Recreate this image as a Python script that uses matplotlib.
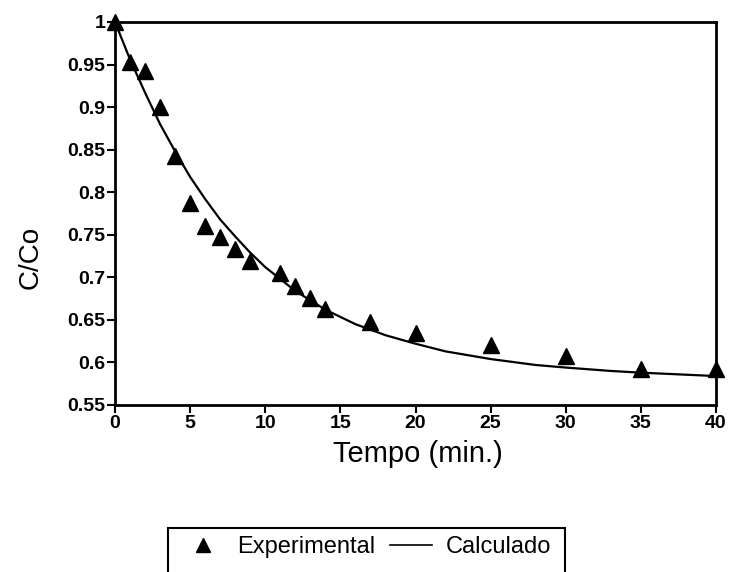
import matplotlib
matplotlib.use("Agg")
import matplotlib.pyplot as plt
from matplotlib.lines import Line2D
from matplotlib.patches import Rectangle

plt.rcParams['font.family'] = ['Liberation Sans', 'DejaVu Sans']

# Experimental points
t_exp = [0, 1, 2, 3, 4, 5, 6, 7, 8, 9, 11, 12, 13, 14, 17, 20, 25, 30, 35, 40]
c_exp = [1.0, 0.953, 0.943, 0.900, 0.843, 0.787, 0.760, 0.747, 0.733, 0.719,
         0.705, 0.690, 0.676, 0.663, 0.648, 0.635, 0.621, 0.607, 0.592, 0.592]

# Calculated curve
t_calc = [0, 1, 2, 3, 4, 5, 6, 7, 8, 9, 10, 12, 14, 16, 18, 20, 22, 25, 28, 30, 33, 35, 40]
c_calc = [1.0, 0.956, 0.917, 0.880, 0.848, 0.818, 0.792, 0.768, 0.748, 0.729, 0.712,
          0.684, 0.662, 0.645, 0.632, 0.622, 0.613, 0.604, 0.597, 0.594, 0.590, 0.588, 0.584]

xticks = [0, 5, 10, 15, 20, 25, 30, 35, 40]
yticks = [0.55, 0.6, 0.65, 0.7, 0.75, 0.8, 0.85, 0.9, 0.95, 1.0]
ytick_labels = ['0.55', '0.6', '0.65', '0.7', '0.75', '0.8', '0.85', '0.9', '0.95', '1']

W, H = 730, 572
fig = plt.figure(figsize=(W/100, H/100), dpi=100)
ax = fig.add_axes([115/W, 1-405/H, (716-115)/W, (405-22)/H])

ax.plot(t_calc, c_calc, color='black', lw=1.6, zorder=2)
ax.plot(t_exp, c_exp, linestyle='none', marker='^', color='black', markersize=11.5,
        zorder=3, clip_on=False)

ax.set_xlim(0, 40)
ax.set_ylim(0.55, 1.0)
ax.set_xticks(xticks)
ax.set_xticklabels([str(v) for v in xticks])
ax.set_yticks(yticks)
ax.set_yticklabels(ytick_labels)
for s in ax.spines.values():
    s.set_linewidth(2)
    s.set_color('black')
ax.tick_params(direction='out', length=6, width=1.5, labelsize=14, pad=1)
for lab in ax.get_xticklabels() + ax.get_yticklabels():
    lab.set_fontweight('bold')

ax.set_xlabel('Tempo (min.)', fontsize=21)
ax.xaxis.set_label_coords(0.504, (405-440)/383)
ax.set_ylabel('C/Co', fontsize=20)
ax.yaxis.set_label_coords((44-115)/601, 0.386)

# Legend (box is cut by the bottom edge of the figure)
fig.patches.append(Rectangle((168/W, -0.05), (565-168)/W, 0.05 + (H-528)/H,
                             transform=fig.transFigure, fill=False, edgecolor='black',
                             linewidth=1.5, clip_on=False))
handles = [Line2D([], [], linestyle='none', marker='^', color='black', markersize=10),
           Line2D([], [], color='black', lw=1.2)]
leg = fig.legend(handles, ['Experimental', 'Calculado'], loc='center left',
                 bbox_to_anchor=(182/W, 1-547/H), ncol=2, fontsize=17,
                 frameon=False, borderpad=0, handlelength=1.8,
                 columnspacing=0.6, handletextpad=0.55, borderaxespad=0)

fig.savefig('out.png', dpi=100)
